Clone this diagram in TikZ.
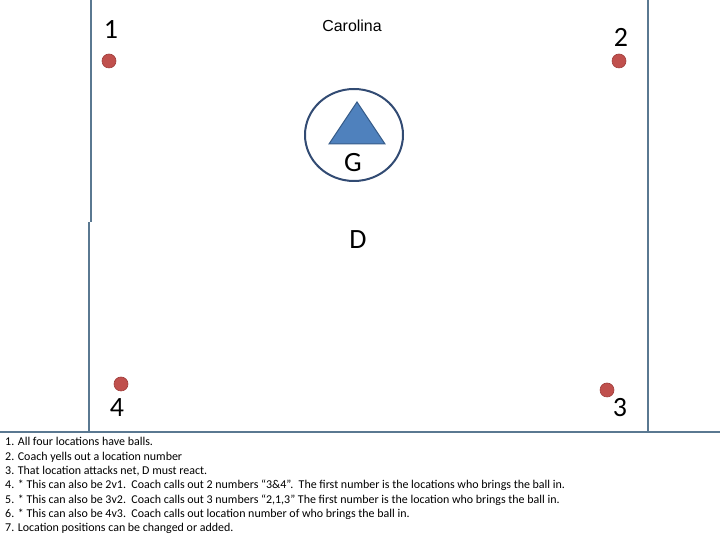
\documentclass[tikz,border=0pt]{standalone}
\usepackage{fontspec}
\usetikzlibrary{shapes.geometric}
\setmainfont{Carlito}
\newfontfamily\arialfont{Liberation Sans}
\definecolor{fieldline}{RGB}{90,120,145}
\definecolor{dotfill}{RGB}{192,80,77}
\definecolor{dotedge}{RGB}{160,62,60}
\definecolor{goalblue}{RGB}{79,129,189}
\definecolor{goaledge}{RGB}{56,93,138}
\definecolor{ringblue}{RGB}{50,75,115}
\tikzset{
  fld/.style={draw=fieldline, line width=1.1bp},
  spot/.style={circle, fill=dotfill, draw=dotedge, line width=0.6bp, minimum size=14bp, inner sep=0pt},
  biglabel/.style={font=\fontsize{28}{28}\selectfont, inner sep=0pt},
  note/.style={font=\fontsize{12}{13}\selectfont, anchor=base west, inner sep=0pt}
}
\begin{document}
\begin{tikzpicture}[x=1bp,y=1bp]
\useasboundingbox (0,0) rectangle (720,540);
% field lines
\draw[fld] (91,540) -- (91,318);
\draw[fld] (89,318) -- (89,108);
\draw[fld] (648,540) -- (648,108);
\draw[fld] (0,108) -- (720,108);
% title
\node[font=\arialfont\fontsize{16}{16}\selectfont, inner sep=0pt] (title) at (352,514) {Carolina};
% spots
\node[spot] (s1) at (109,479) {};
\node[spot] (s2) at (619,479) {};
\node[spot] (s4) at (121,156) {};
\node[spot] (s3) at (607,150) {};
\node[biglabel] (l1) at (111,510) {1};
\node[biglabel] (l2) at (621,503) {2};
\node[biglabel] (l4) at (117,132) {4};
\node[biglabel] (l3) at (620,132) {3};
% goal
\node[ellipse, draw=ringblue, line width=2bp, minimum width=98bp, minimum height=92bp, inner sep=0pt] (ring) at (354,405) {};
\coordinate (ta) at (357,438);
\coordinate (tl) at (329,396);
\coordinate (tr) at (385,396);
\draw[fill=goalblue, draw=goaledge, line width=1bp] (ta) -- (tl) -- (tr) -- cycle;
\node[biglabel] (g) at (353,377) {G};
\node[biglabel] (d) at (358,300) {D};
% notes
\node[note] (n1) at (5,94) {1. All four locations have balls.};
\node[note] (n2) at (5,79.7) {2. Coach yells out a location number};
\node[note] (n3) at (5,65.4) {3. That location attacks net, D must react.};
\node[note] (n4) at (5,51) {4. * This can also be 2v1.\ \ Coach calls out 2 numbers “3\&4”.\ \ The first number is the locations who brings the ball in.};
\node[note] (n5) at (5,36.7) {5. * This can also be 3v2.\ \ Coach calls out 3 numbers “2,1,3” The first number is the location who brings the ball in.};
\node[note] (n6) at (5,22.3) {6. * This can also be 4v3.\ \ Coach calls out location number of who brings the ball in.};
\node[note] (n7) at (5,8) {7. Location positions can be changed or added.};
\end{tikzpicture}
\end{document}
